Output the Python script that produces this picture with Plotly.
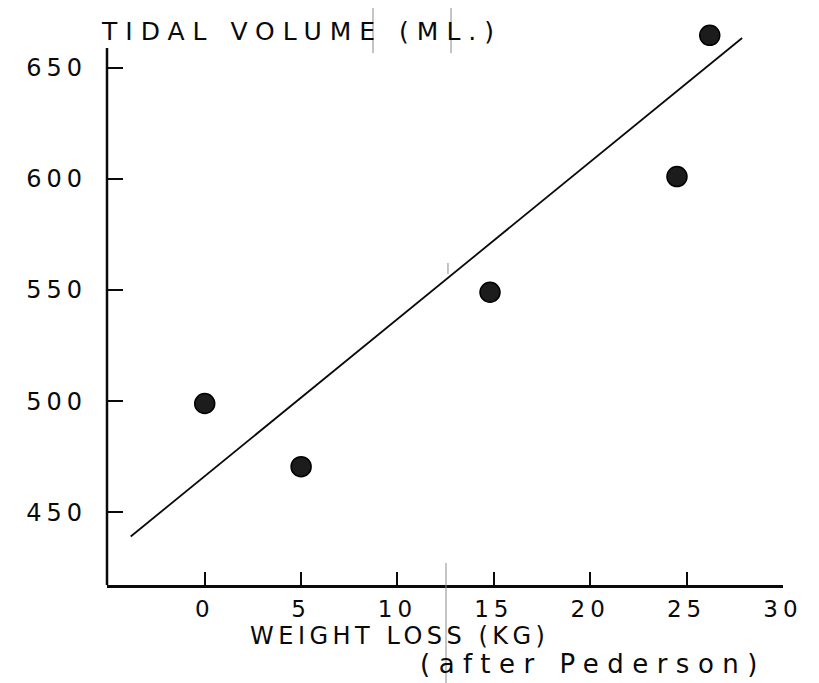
import plotly.graph_objects as go

# Data
weight_loss = [0, 5, 14.8, 24.5, 26.2]
tidal_volume = [499, 470.6, 549, 601, 664.5]

# Regression line end points
fit_x = [-3.84, 27.88]
fit_y = [439.2, 663.3]

x_ticks = [0, 5, 10, 15, 20, 25, 30]
y_ticks = [450, 500, 550, 600, 650]

Y_MIN, Y_AXIS_TOP, Y_MAX = 417.4, 658.8, 672.3

FONT = "DejaVu Sans"
INK = "#0a0a0a"

fig = go.Figure()
fig.add_trace(go.Scatter(
    x=fit_x, y=fit_y, mode="lines",
    line=dict(color=INK, width=1.8),
    cliponaxis=False, showlegend=False, hoverinfo="skip"))
fig.add_trace(go.Scatter(
    x=weight_loss, y=tidal_volume, mode="markers",
    marker=dict(size=20, color="#1c1c1c", line=dict(color="#000", width=1.5)),
    cliponaxis=False, showlegend=False))

# hand-drawn y-axis line that stops below the top of the plotting area
fig.add_shape(type="line", xref="paper", yref="y", x0=0, x1=0, y0=Y_MIN, y1=Y_AXIS_TOP,
              line=dict(color=INK, width=2.5), layer="above")

# faint scanner streaks visible in the original
streaks = [(0.5015, 0.0388, 0.5015, -0.187), (0.3935, 1.0176, 0.3935, 0.938),
           (0.5089, 1.0176, 0.5089, 0.938), (0.5044, 0.568, 0.5044, 0.5485)]
for sx0, sy0, sx1, sy1 in streaks:
    fig.add_shape(type="line", xref="paper", yref="paper", x0=sx0, y0=sy0, x1=sx1, y1=sy1,
                  line=dict(color="#8a8a8a", width=1), layer="above")

fig.update_layout(
    width=819, height=683,
    margin=dict(l=99, r=44, t=10, b=106),
    paper_bgcolor="white", plot_bgcolor="white",
    font=dict(family=FONT, color=INK),
    xaxis=dict(range=[-5.07, 30], tickvals=x_ticks, ticktext=[str(v) for v in x_ticks],
               showgrid=False, zeroline=False, showline=True, linecolor=INK, linewidth=2.5,
               ticks="inside", ticklen=13, tickwidth=2, tickcolor=INK,
               tickfont=dict(size=23, family=FONT, color=INK), ticklabelstandoff=2),
    yaxis=dict(range=[Y_MIN, Y_MAX], tickvals=y_ticks, ticktext=[str(v) for v in y_ticks],
               showgrid=False, zeroline=False, showline=False,
               ticks="inside", ticklen=16, tickwidth=2, tickcolor=INK,
               tickfont=dict(size=24, family=FONT, color=INK), ticklabelstandoff=19),
    annotations=[
        dict(text="TIDAL VOLUME (ML.)", xref="paper", yref="paper", x=0.287, y=0.977,
             xanchor="center", yanchor="middle", showarrow=False,
             font=dict(size=25, family=FONT, color=INK)),
        dict(text="WEIGHT LOSS (KG)", xref="paper", yref="paper", x=0.4334, y=-0.0899,
             xanchor="center", yanchor="middle", showarrow=False,
             font=dict(size=24, family=FONT, color=INK)),
        dict(text="(after Pederson)", xref="paper", yref="paper", x=0.719, y=-0.1393,
             xanchor="center", yanchor="middle", showarrow=False,
             font=dict(size=26, family=FONT, color=INK)),
    ],
)

# wide lettering, as in the hand-lettered original
post = """
var gd = document.querySelector('.js-plotly-plot');
var spacing = [8, 4.5, 8.5];
gd.querySelectorAll('.annotation-text').forEach(function(t, i){
  t.style.letterSpacing = (spacing[i] || 4) + 'px';
});
gd.querySelectorAll('.xtick text').forEach(function(t){ t.style.letterSpacing = '5px'; });
gd.querySelectorAll('.ytick text').forEach(function(t){ t.style.letterSpacing = '5px'; });
"""

fig.write_html("out.html", post_script=post)
